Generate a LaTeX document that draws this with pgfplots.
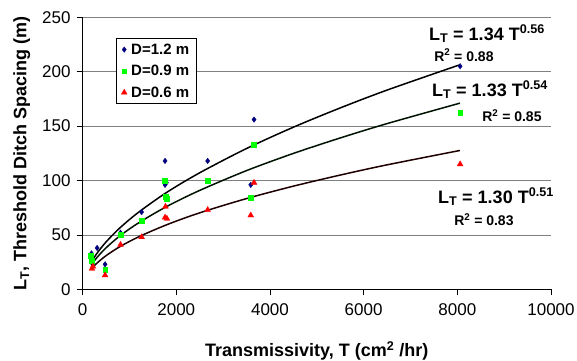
\documentclass[border=0pt]{standalone}
\usepackage{fontspec}
\setmainfont{Liberation Sans}
\usepackage{pgfplots}
\pgfplotsset{compat=1.18}
\definecolor{navyb}{RGB}{0,0,128}
\definecolor{limeg}{RGB}{0,255,0}
\definecolor{redr}{RGB}{255,0,0}
\pgfplotsset{only mark legend/.style={legend image code/.code={\draw[##1] plot coordinates {(0.2cm,0cm)};}}}
\begin{document}
\begin{tikzpicture}
\path[use as bounding box] (-82.6pt,-70.7pt) rectangle (494.4pt,289.3pt);
\begin{axis}[
  at={(0,0)}, anchor=south west,
  scale only axis, width=468.4pt, height=272pt,
  xmin=0, xmax=10000, ymin=0, ymax=250,
  xtick={0,2000,...,10000}, ytick={0,50,...,250},
  scaled ticks=false,
  axis x line*=bottom, axis y line*=left,
  axis line style={-, black, line width=0.8pt},
  tick align=outside, major tick length=6pt,
  tick style={black, line width=0.8pt},
  ymajorgrids, grid style={gray, line width=0.8pt},
  clip=false,
  ticklabel style={font=\fontsize{17}{19}\selectfont},
  /pgf/number format/assume math mode=true,
  /pgf/number format/set thousands separator={},
  xticklabel style={yshift=-5pt},
  yticklabel style={xshift=-2.5pt},
  xlabel={\textbf{Transmissivity, T (cm\textsuperscript{2} /hr)}},
  ylabel={\textbf{L\textsubscript{T}, Threshold Ditch Spacing (m)}},
  label style={font=\fontsize{18}{20}\selectfont},
  x label style={at={(axis description cs:0.5,-0.248)}, anchor=base},
  y label style={at={(axis description cs:-0.13,0.5)}, anchor=center},
  legend style={at={(axis description cs:0.0713,0.9228)}, anchor=north west,
    draw=black, line width=0.6pt, fill=white,
    font=\fontsize{15}{17}\selectfont\bfseries,
    inner xsep=5pt, inner ysep=3pt, row sep=5.5pt, column sep=2pt,
    nodes={inner sep=2pt}, cells={anchor=west}},
]
\addplot[only marks, mark=diamond*, mark size=2.8pt, color=navyb, mark options={line width=0.3pt}] coordinates {
(190,33) (310,38) (480,23) (810,52) (1260,71) (1760,118) (1790,98) (1760,96) (2670,118) (3660,156) (3590,96) (8060,205)};
\addlegendentry{D=1.2 m}
\addplot[only marks, mark=square*, mark size=2.4pt, color=limeg, mark options={line width=0.3pt}] coordinates {
(180,31) (200,26) (480,18) (810,50) (1260,63) (1760,100) (1780,85) (1790,83) (2670,100) (3660,133) (3590,84) (8060,162)};
\addlegendentry{D=0.9 m}
\addplot[only marks, mark=triangle*, mark size=3.4pt, color=redr, mark options={line width=0.3pt}] coordinates {
(200,19) (220,21) (480,13) (810,41) (1260,48) (1770,76) (1760,66) (1800,65) (2670,73) (3660,98) (3590,68) (8060,115)};
\addlegendentry{D=0.6 m}
\addplot[forget plot, black, line width=1.5pt, smooth] coordinates {
(180,24.6) (300,32.7) (500,43.5) (800,56.6) (1200,71.0) (1800,89.2) (2500,107.1) (3500,129.4) (4500,149.0) (5500,166.7) (6500,183.1) (8056,206.4)};
\addplot[forget plot, black!93!green, line width=1.5pt, smooth] coordinates {
(180,22.0) (300,28.9) (500,38.1) (800,49.2) (1200,61.2) (1800,76.2) (2500,90.9) (3500,109.1) (4500,124.9) (5500,139.1) (6500,152.3) (8056,171.1)};
\addplot[forget plot, black!88!red, line width=1.5pt, smooth] coordinates {
(180,18.4) (300,23.8) (500,30.9) (800,39.3) (1200,48.3) (1800,59.4) (2500,70.3) (3500,83.4) (4500,94.8) (5500,105.0) (6500,114.4) (8056,127.6)};
\node[font=\fontsize{18}{20}\selectfont\bfseries] at (axis cs:8632,234.6) {L\textsubscript{T} = 1.34 T\textsuperscript{0.56}};
\node[font=\fontsize{14}{16}\selectfont\bfseries] at (axis cs:8141,215.3) {R\textsuperscript{2} = 0.88};
\node[font=\fontsize{18}{20}\selectfont\bfseries] at (axis cs:8696,183.2) {L\textsubscript{T} = 1.33 T\textsuperscript{0.54}};
\node[font=\fontsize{14}{16}\selectfont\bfseries] at (axis cs:9166,159.6) {R\textsuperscript{2} = 0.85};
\node[font=\fontsize{18}{20}\selectfont\bfseries] at (axis cs:8824,84.8) {L\textsubscript{T} = 1.30 T\textsuperscript{0.51}};
\node[font=\fontsize{14}{16}\selectfont\bfseries] at (axis cs:8568,63.7) {R\textsuperscript{2} = 0.83};
\end{axis}
\end{tikzpicture}
\end{document}
